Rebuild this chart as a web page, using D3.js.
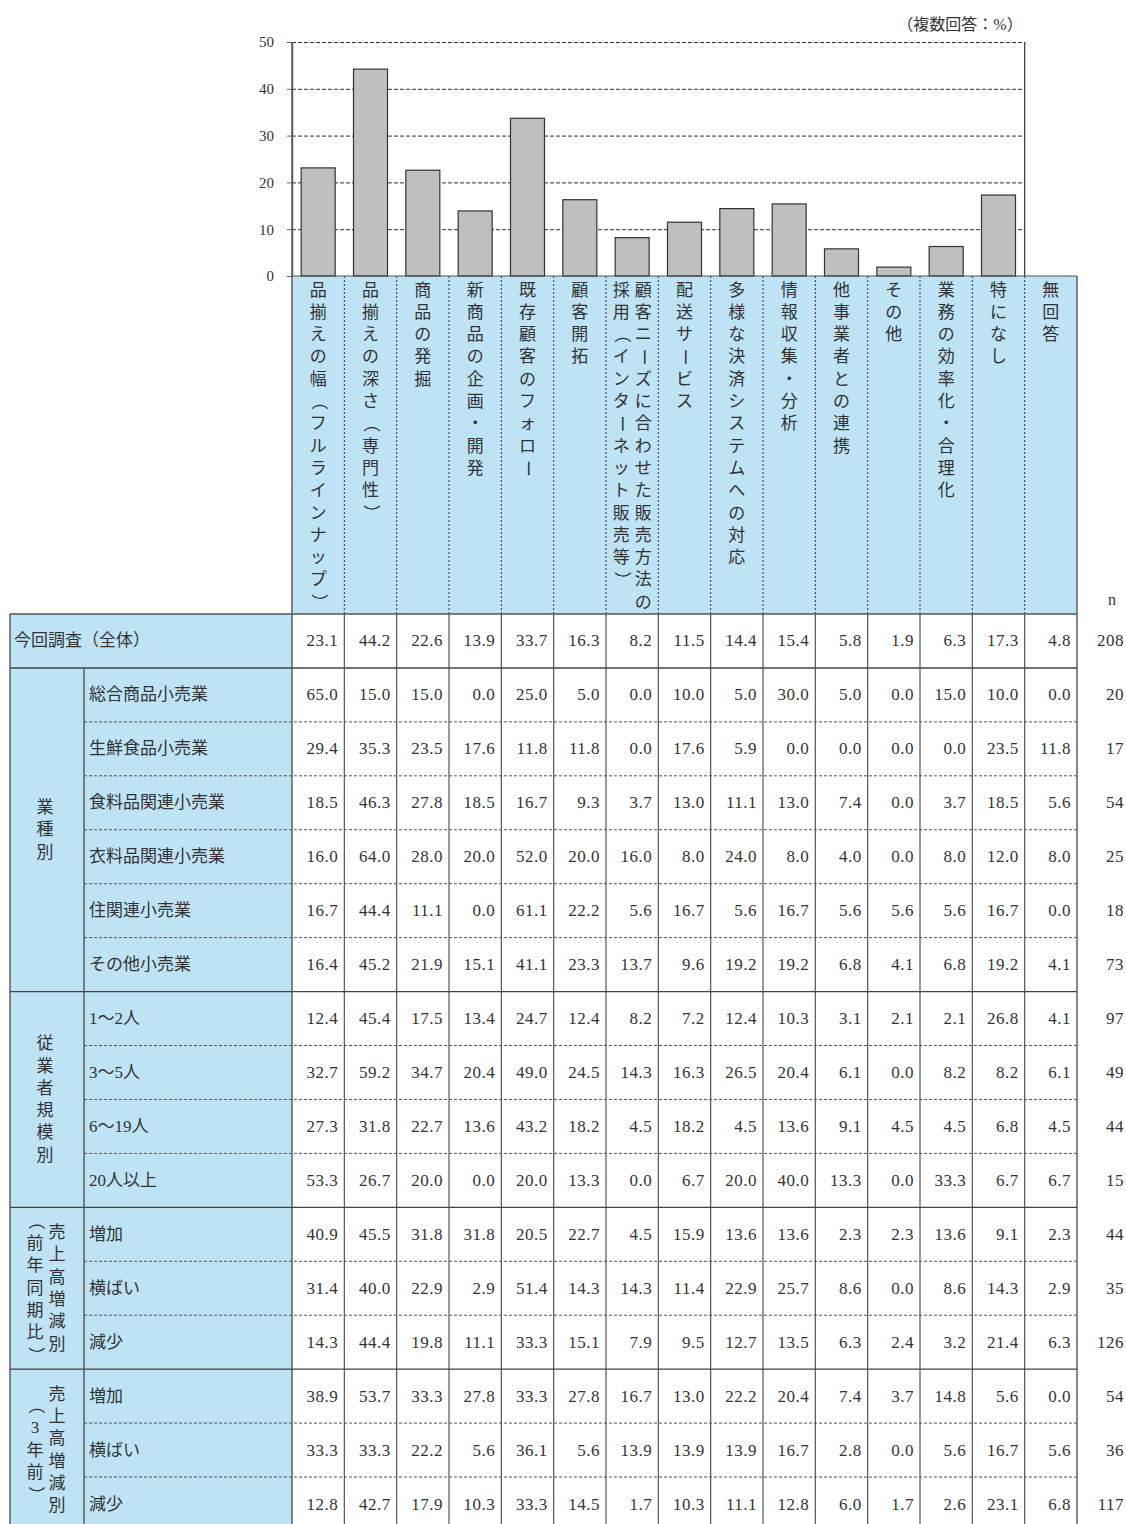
<!DOCTYPE html>
<html>
<head>
<meta charset="utf-8">
<script src="https://cdn.jsdelivr.net/npm/d3@7"></script>
<style>
  body { margin: 0; background: #fff; }
  svg { display: block; }
</style>
</head>
<body>
<div id="chart"></div>
<script>
// column categories (the bars use the overall row, 無回答 has no bar)
const categories = [
  '品揃えの幅（フルラインナップ）',
  '品揃えの深さ（専門性）',
  '商品の発掘',
  '新商品の企画・開発',
  '既存顧客のフォロー',
  '顧客開拓',
  '顧客ニーズに合わせた販売方法の採用（インターネット販売等）',
  '配送サービス',
  '多様な決済システムへの対応',
  '情報収集・分析',
  '他事業者との連携',
  'その他',
  '業務の効率化・合理化',
  '特になし',
  '無回答'
]

const rowLabels = ['今回調査（全体）',
  '総合商品小売業', '生鮮食品小売業', '食料品関連小売業', '衣料品関連小売業', '住関連小売業', 'その他小売業',
  '1～2人', '3～5人', '6～19人', '20人以上',
  '増加', '横ばい', '減少',
  '増加', '横ばい', '減少']

const tableValues = [
  [23.1, 44.2, 22.6, 13.9, 33.7, 16.3, 8.2, 11.5, 14.4, 15.4, 5.8, 1.9, 6.3, 17.3, 4.8],
  [65.0, 15.0, 15.0, 0.0, 25.0, 5.0, 0.0, 10.0, 5.0, 30.0, 5.0, 0.0, 15.0, 10.0, 0.0],
  [29.4, 35.3, 23.5, 17.6, 11.8, 11.8, 0.0, 17.6, 5.9, 0.0, 0.0, 0.0, 0.0, 23.5, 11.8],
  [18.5, 46.3, 27.8, 18.5, 16.7, 9.3, 3.7, 13.0, 11.1, 13.0, 7.4, 0.0, 3.7, 18.5, 5.6],
  [16.0, 64.0, 28.0, 20.0, 52.0, 20.0, 16.0, 8.0, 24.0, 8.0, 4.0, 0.0, 8.0, 12.0, 8.0],
  [16.7, 44.4, 11.1, 0.0, 61.1, 22.2, 5.6, 16.7, 5.6, 16.7, 5.6, 5.6, 5.6, 16.7, 0.0],
  [16.4, 45.2, 21.9, 15.1, 41.1, 23.3, 13.7, 9.6, 19.2, 19.2, 6.8, 4.1, 6.8, 19.2, 4.1],
  [12.4, 45.4, 17.5, 13.4, 24.7, 12.4, 8.2, 7.2, 12.4, 10.3, 3.1, 2.1, 2.1, 26.8, 4.1],
  [32.7, 59.2, 34.7, 20.4, 49.0, 24.5, 14.3, 16.3, 26.5, 20.4, 6.1, 0.0, 8.2, 8.2, 6.1],
  [27.3, 31.8, 22.7, 13.6, 43.2, 18.2, 4.5, 18.2, 4.5, 13.6, 9.1, 4.5, 4.5, 6.8, 4.5],
  [53.3, 26.7, 20.0, 0.0, 20.0, 13.3, 0.0, 6.7, 20.0, 40.0, 13.3, 0.0, 33.3, 6.7, 6.7],
  [40.9, 45.5, 31.8, 31.8, 20.5, 22.7, 4.5, 15.9, 13.6, 13.6, 2.3, 2.3, 13.6, 9.1, 2.3],
  [31.4, 40.0, 22.9, 2.9, 51.4, 14.3, 14.3, 11.4, 22.9, 25.7, 8.6, 0.0, 8.6, 14.3, 2.9],
  [14.3, 44.4, 19.8, 11.1, 33.3, 15.1, 7.9, 9.5, 12.7, 13.5, 6.3, 2.4, 3.2, 21.4, 6.3],
  [38.9, 53.7, 33.3, 27.8, 33.3, 27.8, 16.7, 13.0, 22.2, 20.4, 7.4, 3.7, 14.8, 5.6, 0.0],
  [33.3, 33.3, 22.2, 5.6, 36.1, 5.6, 13.9, 13.9, 13.9, 16.7, 2.8, 0.0, 5.6, 16.7, 5.6],
  [12.8, 42.7, 17.9, 10.3, 33.3, 14.5, 1.7, 10.3, 11.1, 12.8, 6.0, 1.7, 2.6, 23.1, 6.8]
]

const nValues = [208, 20, 17, 54, 25, 18, 73, 97, 49, 44, 15, 44, 35, 126, 54, 36, 117]

// groups of rows: first row index, number of rows, vertical label columns (right to left)
const groupStart = [1, 7, 11, 14]
const groupSize = [6, 4, 3, 3]
const groupLabels = [['業種別'], ['従業者規模別'], ['売上高増減別', '（前年同期比）'], ['売上高増減別', '（3年前）']]

const yTicks = [0, 10, 20, 30, 40, 50]
const unitLabel = '（複数回答：%）'

// sizes
const W = 1126, H = 1524
const plotLeft = 292, plotTop = 42, plotBottom = 276
const tableRight = 1077
const headBottom = 614
const rowH = 53.94
const leftX = 10, groupX = 84
const blue = '#bde3f4'
const jp = "'Liberation Serif', 'Noto Sans CJK JP', sans-serif"
const numFont = "'Liberation Serif', 'DejaVu Serif', serif"
const charStep = 22.3

const svg = d3.select('#chart').append('svg')
  .attr('width', W)
  .attr('height', H)

const x = d3.scaleBand()
  .domain(categories)
  .range([plotLeft, tableRight])
  .padding(0)
const bw = x.bandwidth()
const plotRight = x(categories[categories.length - 1])

const y = d3.scaleLinear()
  .domain([0, 50])
  .range([plotBottom, plotTop])

const rowY = d3.scaleBand()
  .domain(d3.range(rowLabels.length))
  .range([headBottom, headBottom + rowLabels.length * rowH])
const rowBottom = headBottom + rowLabels.length * rowH

// background blues
svg.append('rect')
  .attr('x', plotLeft).attr('y', plotBottom)
  .attr('width', tableRight - plotLeft).attr('height', headBottom - plotBottom)
  .attr('fill', blue)
svg.append('rect')
  .attr('x', leftX).attr('y', headBottom)
  .attr('width', plotLeft - leftX).attr('height', rowBottom - headBottom)
  .attr('fill', blue)

// grid lines
svg.append('g')
  .attr('transform', 'translate(' + plotLeft + ',0)')
  .call(d3.axisLeft(y).tickValues(yTicks.slice(1)).tickSize(-(plotRight - plotLeft)).tickFormat(''))
  .call(g => g.select('.domain').remove())
  .call(g => g.selectAll('line').attr('stroke', '#333').attr('stroke-dasharray', '4,2'))

// bars
const overall = tableValues[0]
const barW = 34
svg.append('g').selectAll('rect')
  .data(categories.slice(0, 14))
  .enter()
  .append('rect')
  .attr('x', d => x(d) + (bw - barW) / 2)
  .attr('y', (d, i) => y(overall[i]))
  .attr('width', barW)
  .attr('height', (d, i) => y(0) - y(overall[i]))
  .attr('fill', '#bfbfbf')
  .attr('stroke', '#333')
  .attr('stroke-width', 1.2)

// y axis
svg.append('g')
  .attr('transform', 'translate(' + plotLeft + ',0)')
  .call(d3.axisLeft(y).tickValues(yTicks).tickSize(5).tickSizeOuter(0).tickPadding(13))
  .call(g => g.select('.domain').attr('stroke', '#666').attr('stroke-width', 1.5))
  .call(g => g.selectAll('line').attr('stroke', '#666'))
  .call(g => g.selectAll('text').attr('font-family', numFont).attr('font-size', 15).attr('fill', '#333'))

// plot right border
svg.append('line')
  .attr('x1', plotRight).attr('x2', plotRight)
  .attr('y1', plotTop).attr('y2', plotBottom)
  .attr('stroke', '#333').attr('stroke-width', 1.2)

// baseline / header top
svg.append('line')
  .attr('x1', plotLeft).attr('x2', tableRight)
  .attr('y1', plotBottom).attr('y2', plotBottom)
  .attr('stroke', '#555').attr('stroke-width', 1.2)

// unit label
svg.append('text')
  .attr('x', plotRight - 2).attr('y', 30)
  .attr('text-anchor', 'end')
  .attr('font-family', jp).attr('font-size', 16).attr('fill', '#333')
  .text(unitLabel)

// vertical text helper
const rotated = '（）ー～'
function vtext(g, str, cx, y0) {
  Array.from(str).forEach((ch, i) => {
    const cy = y0 + i * charStep
    const t = g.append('text')
      .attr('x', cx).attr('y', cy)
      .attr('text-anchor', 'middle')
      .attr('dominant-baseline', 'central')
      .attr('font-family', jp).attr('font-size', 17).attr('fill', '#333')
      .text(ch)
    if (rotated.includes(ch)) t.attr('transform', 'rotate(90,' + cx + ',' + cy + ')')
  })
}

// header labels, max 15 characters per vertical column
const headG = svg.append('g')
categories.forEach(c => {
  const chars = Array.from(c)
  const cols = []
  for (let i = 0; i < chars.length; i += 15) cols.push(chars.slice(i, i + 15).join(''))
  const cx = x(c) + bw / 2
  cols.forEach((s, k) => {
    const off = cols.length === 1 ? 0 : (cols.length - 1) / 2 * 22 - k * 22
    vtext(headG, s, cx + off, 290)
  })
})

// header dotted separators and table vertical lines
categories.slice(1).forEach(c => {
  svg.append('line')
    .attr('x1', x(c)).attr('x2', x(c))
    .attr('y1', plotBottom).attr('y2', headBottom)
    .attr('stroke', '#333').attr('stroke-dasharray', '2,2')
  svg.append('line')
    .attr('x1', x(c)).attr('x2', x(c))
    .attr('y1', headBottom).attr('y2', rowBottom)
    .attr('stroke', '#555').attr('stroke-width', 1.2)
})
;[[plotLeft, plotTop], [tableRight, plotBottom], [leftX, headBottom], [groupX, rowY(1)]].forEach(d => {
  svg.append('line')
    .attr('x1', d[0]).attr('x2', d[0])
    .attr('y1', d[1]).attr('y2', rowBottom)
    .attr('stroke', '#555').attr('stroke-width', 1.4)
})

// horizontal lines
svg.append('line')
  .attr('x1', leftX).attr('x2', tableRight)
  .attr('y1', headBottom).attr('y2', headBottom)
  .attr('stroke', '#555').attr('stroke-width', 1.4)
d3.range(1, rowLabels.length).forEach(i => {
  const solid = groupStart.includes(i)
  svg.append('line')
    .attr('x1', solid ? leftX : groupX).attr('x2', tableRight)
    .attr('y1', rowY(i)).attr('y2', rowY(i))
    .attr('stroke', solid ? '#444' : '#555')
    .attr('stroke-width', solid ? 1.4 : 1)
    .attr('stroke-dasharray', solid ? null : '3,2')
})

// row labels
svg.append('g').selectAll('text')
  .data(rowLabels)
  .enter()
  .append('text')
  .attr('x', (d, i) => i === 0 ? 14 : 89)
  .attr('y', (d, i) => rowY(i) + rowY.bandwidth() / 2)
  .attr('dominant-baseline', 'central')
  .attr('font-family', jp).attr('font-size', 17).attr('fill', '#333')
  .text(d => d)

// group labels
const grpG = svg.append('g')
groupLabels.forEach((cols, gi) => {
  const top = rowY(groupStart[gi])
  const mid = top + groupSize[gi] * rowH / 2
  cols.forEach((s, k) => {
    const n = Array.from(s).length
    const cx = cols.length === 1 ? 45 : (k === 0 ? 57 : 35)
    vtext(grpG, s, cx, mid - (n - 1) * charStep / 2)
  })
})

// cell values
const cellG = svg.append('g')
tableValues.forEach((row, ri) => {
  cellG.selectAll('text.r' + ri)
    .data(row)
    .enter()
    .append('text')
    .attr('class', 'r' + ri)
    .attr('x', (d, i) => x(categories[i]) + bw - 6)
    .attr('y', rowY(ri) + rowY.bandwidth() / 2)
    .attr('text-anchor', 'end')
    .attr('dominant-baseline', 'central')
    .attr('font-family', numFont).attr('font-size', 17).attr('fill', '#333')
    .attr('letter-spacing', 0.5)
    .text(d => d.toFixed(1))
})

// n column
svg.append('text')
  .attr('x', 1108).attr('y', 605)
  .attr('font-family', numFont).attr('font-size', 16).attr('fill', '#333')
  .text('n')
svg.append('g').selectAll('text')
  .data(nValues)
  .enter()
  .append('text')
  .attr('x', 1124)
  .attr('y', (d, i) => rowY(i) + rowY.bandwidth() / 2)
  .attr('text-anchor', 'end')
  .attr('dominant-baseline', 'central')
  .attr('font-family', numFont).attr('font-size', 17).attr('fill', '#333')
  .attr('letter-spacing', 0.5)
  .text(d => d)
</script>
</body>
</html>
